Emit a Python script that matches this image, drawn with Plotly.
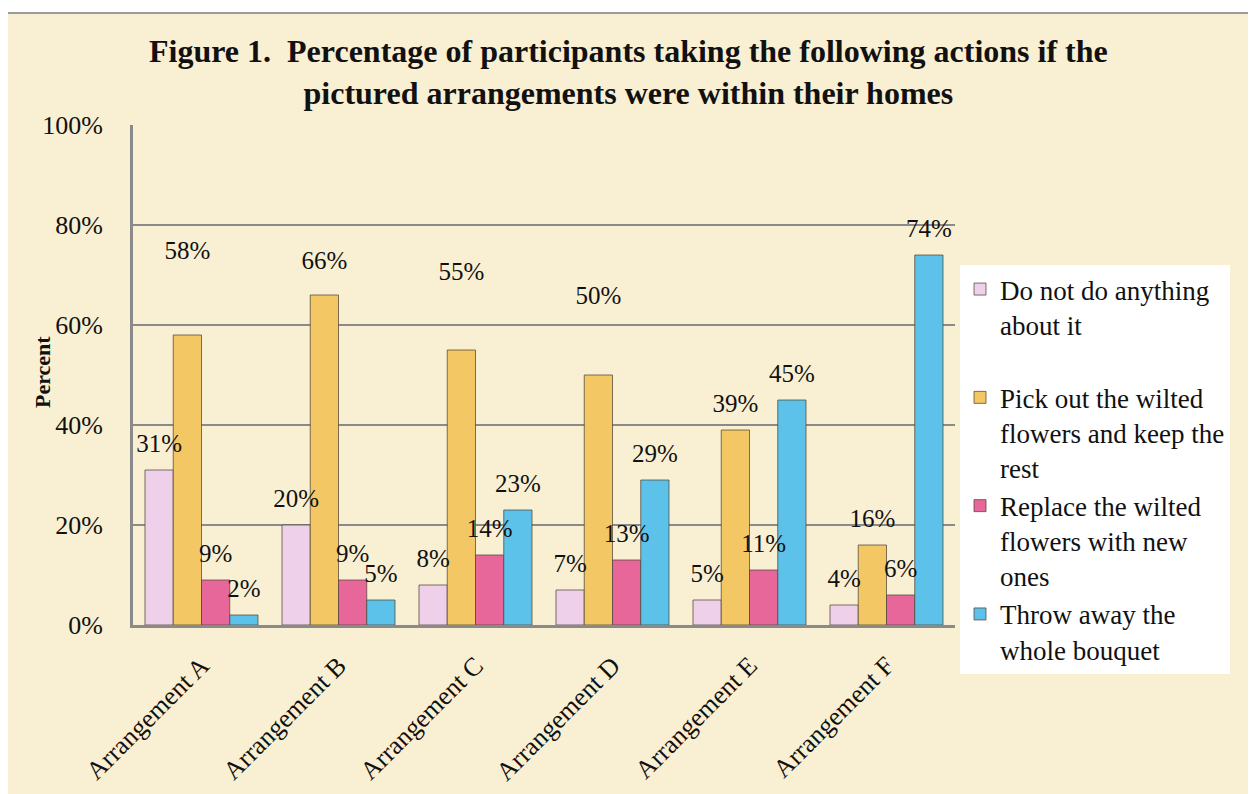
import plotly.graph_objects as go

arrangements = ['Arrangement A', 'Arrangement B', 'Arrangement C',
                'Arrangement D', 'Arrangement E', 'Arrangement F']

nothing = [31, 20, 8, 7, 5, 4]
pick_out = [58, 66, 55, 50, 39, 16]
replace = [9, 9, 14, 13, 11, 6]
throw_away = [2, 5, 23, 29, 45, 74]

series_names = ['Do not do anything<br>about it<br> ',
                'Pick out the wilted<br>flowers and keep the<br>rest',
                'Replace the wilted<br>flowers with new<br>ones',
                'Throw away the<br>whole bouquet']
series_values = [nothing, pick_out, replace, throw_away]
colors = ['#EFD0EA', '#F3C763', '#E8679B', '#5CC2EA']

# label gap above each bar (size of an invisible marker, px)
label_gap = [
    [18] * 6,
    [110, 30, 100, 102, 18, 18],
    [18] * 6,
    [18] * 6,
]

yticks = [0, 20, 40, 60, 80, 100]
ytick_text = ['0%', '20%', '40%', '60%', '80%', '100%']

serif = 'Liberation Serif'

fig = go.Figure()
for i, (name, vals, col) in enumerate(zip(series_names, series_values, colors)):
    fig.add_trace(go.Bar(
        x=arrangements, y=vals, name=name,
        offsetgroup=str(i), alignmentgroup='g',
        marker=dict(color=col, line=dict(color='rgba(80,70,55,0.75)', width=1)),
    ))
for i, vals in enumerate(series_values):
    fig.add_trace(go.Scatter(
        x=arrangements, y=vals, mode='markers+text',
        offsetgroup=str(i), alignmentgroup='g',
        marker=dict(size=label_gap[i], opacity=0),
        text=[f'{v}%' for v in vals], textposition='top center',
        textfont=dict(family=serif, size=25, color='#111'),
        showlegend=False, hoverinfo='skip', cliponaxis=False,
    ))

# page offsets (the browser adds an 8px body margin)
W, H = 1248, 786
l, r, t, b = 125, 301, 117, 169
pw, ph = W - l - r, H - t - b
def px_x(p):
    return (p - l) / pw
def px_y(p):
    return (H - b - p) / ph

# parchment frame behind everything
fig.add_shape(type='rect', xref='paper', yref='paper',
              x0=px_x(-4), x1=px_x(1245), y0=px_y(790), y1=px_y(5),
              fillcolor='#F9EFD3', line=dict(color='#9a9a9a', width=2),
              layer='below')

fig.add_annotation(text='<b>Figure 1.  Percentage of participants taking the following actions if the<br>pictured arrangements were within their homes</b>',
                   xref='paper', yref='paper', x=px_x(620), y=px_y(64),
                   xanchor='center', yanchor='middle', showarrow=False,
                   font=dict(family=serif, size=32, color='#111'))

fig.add_annotation(text='<b>Percent</b>', xref='paper', yref='paper',
                   x=px_x(34), y=px_y(364), xanchor='center', yanchor='middle',
                   textangle=-90, showarrow=False,
                   font=dict(family=serif, size=22, color='#111'))

fig.update_layout(
    width=W, height=H,
    margin=dict(l=l, r=r, t=t, b=b, autoexpand=False),
    paper_bgcolor='white',
    plot_bgcolor='rgba(0,0,0,0)',
    barmode='group', bargap=0.175, bargroupgap=0,
    scattermode='group', scattergap=0.175,
    font=dict(family=serif, color='#111'),
    yaxis=dict(range=[0, 100], tickvals=yticks, ticktext=ytick_text,
               tickfont=dict(family=serif, size=26, color='#111'),
               showgrid=True, gridcolor='#8a8a8a', gridwidth=2,
               showline=True, linecolor='#8a8a8a', linewidth=3,
               ticks='', zeroline=False, ticklabelstandoff=22,
               automargin=False),
    xaxis=dict(tickangle=-45, tickfont=dict(family=serif, size=26, color='#111'),
               showline=True, linecolor='#8a8a8a', linewidth=3, ticks='',
               ticklabelstandoff=12, automargin=False),
    legend=dict(x=px_x(952), xanchor='left', y=px_y(257), yanchor='top',
                bgcolor='white', borderwidth=0, valign='top',
                font=dict(family=serif, size=27, color='#111'),
                itemwidth=30, entrywidth=300),
    showlegend=True,
)

fig.write_html('out.html')
